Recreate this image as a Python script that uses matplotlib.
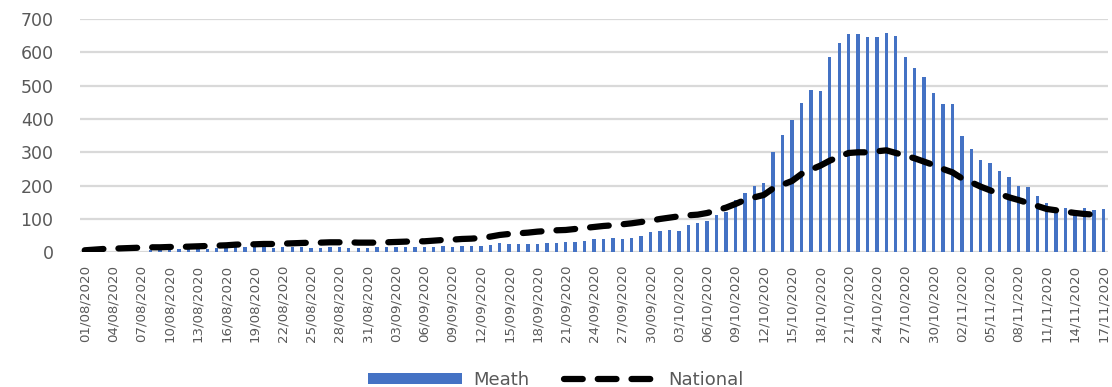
import datetime as dt
import matplotlib
matplotlib.use("Agg")
import matplotlib.pyplot as plt
import numpy as np

# 14-day incidence per 100k, one value per day from 01/08/2020 to 17/11/2020
start = dt.date(2020, 8, 1)
n_days = 109
dates = [start + dt.timedelta(days=i) for i in range(n_days)]
date_labels = [d.strftime("%d/%m/%Y") for d in dates]

meath = [
    1, 1, 1, 1, 1, 1, 1,
    7, 8, 8, 9, 10, 10, 11,
    12, 17, 17, 17, 17, 17, 12, 17, 17, 17, 12, 12,
    15, 15, 12, 12, 12, 15, 15, 17, 17, 17, 17, 17, 20, 17, 19, 20, 20,
    22, 27, 24, 24, 24, 24, 27, 27, 32, 32,
    33, 40, 40, 44, 40, 44, 48, 60, 64, 68, 64, 83,
    87, 94, 112, 122, 158, 178, 198, 209,
    300, 352, 398, 449, 488, 484, 587, 627, 654, 654, 646, 646, 657, 650,
    587, 554, 527, 477, 446, 446, 349, 311, 276, 268, 245, 226, 199, 195,
    168, 149, 133, 133, 123, 133, 128, 130,
]

national = [
    6, 8, 10, 11, 12, 13, 14, 15, 15, 16, 16, 17, 18, 19, 20, 21, 23, 24,
    24, 25, 25, 26, 27, 28, 29, 29, 30, 30, 30, 29, 29, 29, 30, 31, 32, 33,
    33, 35, 37, 38, 40, 41, 43, 47, 52, 55, 57, 59, 62, 64, 66, 67, 70, 73,
    76, 79, 81, 84, 87, 91, 95, 100, 104, 108, 111, 113, 118, 126, 134, 145,
    157, 165, 172, 192, 203, 214, 235, 248, 260, 275, 287, 298, 300, 300,
    303, 306, 298, 290, 282, 272, 262, 250, 240, 222, 210, 197, 186, 175,
    165, 157, 148, 139, 130, 126, 122, 118, 115, 113, 112,
]

y_ticks = [0, 100, 200, 300, 400, 500, 600, 700]

BLUE = "#4472C4"
GREY_TEXT = "#595959"
GRID = "#D9D9D9"

fig = plt.figure(figsize=(11.12, 3.87), dpi=100)
ax = fig.add_axes([80 / 1112, 1 - 252.3 / 387, 1028 / 1112, 233.3 / 387])

x = np.arange(n_days)
bars = ax.bar(x, meath, width=0.36, color=BLUE, label="Meath", zorder=2)
line, = ax.plot(x, national, color="black", lw=4.5, label="National",
                solid_capstyle="round", dash_capstyle="round", zorder=3)
line.set_dashes([3.0, 2.4])

ax.set_xlim(-0.5, n_days - 0.5)
ax.set_ylim(0, 700)
ax.set_yticks(y_ticks)
ax.set_yticklabels([str(v) for v in y_ticks])
ax.set_xticks(x[::3])
ax.set_xticklabels(date_labels[::3], rotation=90)

ax.yaxis.grid(True, color=GRID, lw=1.6, zorder=0)
ax.set_axisbelow(True)
for s in ax.spines.values():
    s.set_visible(False)

ax.tick_params(axis="y", length=0, pad=19, labelsize=12.5, labelcolor=GREY_TEXT)
ax.tick_params(axis="x", length=0, pad=9, labelsize=9.6, labelcolor=GREY_TEXT)

fig.legend(handles=[bars, line], labels=["Meath", "National"],
           loc="center", bbox_to_anchor=(0.5, 0.018), ncol=2, frameon=False,
           fontsize=13, handlelength=5.2, handleheight=0.55,
           handletextpad=0.6, columnspacing=1.9, labelcolor=GREY_TEXT)

fig.savefig("out.png", dpi=100)
